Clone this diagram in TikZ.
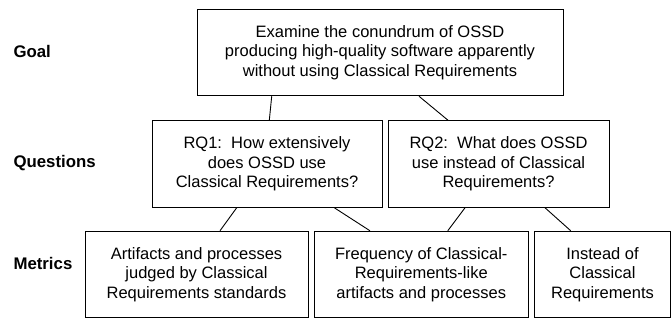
\documentclass[tikz,border=0pt]{standalone}
\usepackage{fontspec}
\setmainfont{Liberation Sans}

\begin{document}
\begin{tikzpicture}[x=1pt, y=-1pt,
    box/.style={draw, line width=1pt, align=center, inner sep=0pt,
        minimum height=86.5pt, font=\fontsize{16.5}{19.5}\selectfont},
    lvl/.style={anchor=base west, font=\fontsize{16.8}{19.5}\selectfont\bfseries}]
\useasboundingbox (0,0) rectangle (672,320);

% goal
\node (goal) [box, minimum width=366pt] at (380,52.5)
    {Examine the conundrum of OSSD\\ producing high-quality software apparently\\ without using Classical Requirements};

% questions
\node (rq1) [box, minimum width=230pt] at (267,164)
    {RQ1:\ \ How extensively\\ does OSSD use\\ Classical Requirements?};
\node (rq2) [box, minimum width=221pt] at (498.5,164)
    {RQ2:\ \ What does OSSD\\ use instead of Classical\\ Requirements?};

% metrics
\node (m1) [box, minimum width=223pt] at (196.5,274.5)
    {Artifacts and processes\\ judged by Classical\\ Requirements standards};
\node (m2) [box, minimum width=214.5pt] at (421.25,274.5)
    {Frequency of Classical-\\ Requirements-like\\ artifacts and processes};
\node (m3) [box, minimum width=136pt] at (602.5,274.5)
    {Instead of\\ Classical\\ Requirements};

\node (lgoal) [lvl] at (10,58) {Goal};
\node (lquest) [lvl] at (10,168) {Questions};
\node (lmetr) [lvl] at (10,270) {Metrics};

\foreach \a/\sa/\b/\sb in {goal/-108.3/rq1/2.3, goal/39/rq2/-50.5,
    rq1/-30.3/m1/23.5, rq1/67.3/m2/-51.3,
    rq2/-33.5/m2/26.5, rq2/46.5/m3/-31.8}
    \draw [line width=0.9pt] ([xshift=\sa pt]\a.south)--([xshift=\sb pt]\b.north);

\end{tikzpicture}
\end{document}
